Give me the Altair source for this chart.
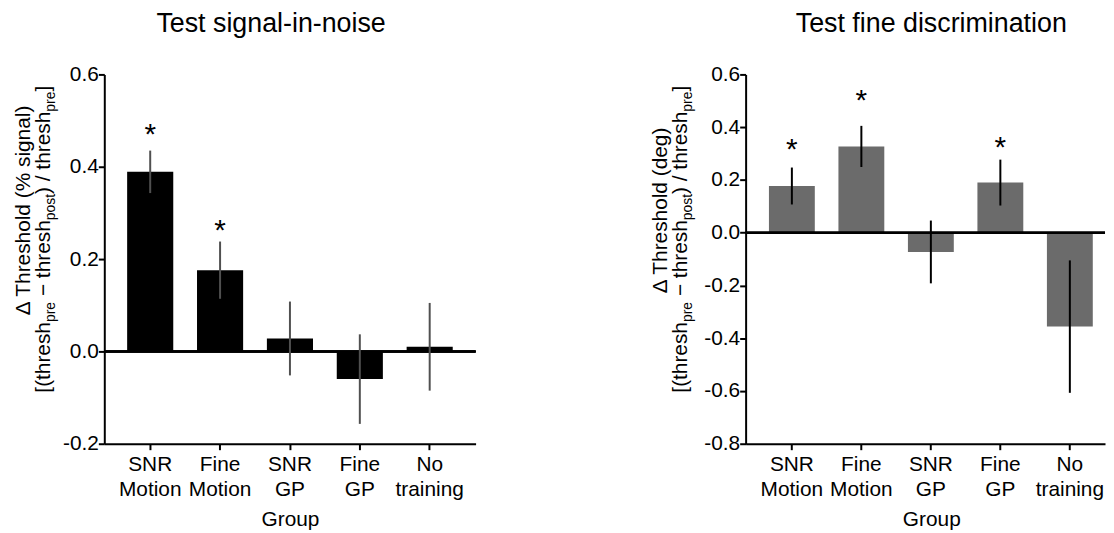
import altair as alt
import pandas as pd

groups = ["SNR Motion", "Fine Motion", "SNR GP", "Fine GP", "No training"]

snr_mean = [0.389, 0.176, 0.028, -0.060, 0.010]
snr_err = [0.046, 0.062, 0.080, 0.097, 0.095]
snr_star = [0.486, 0.277, None, None, None]

fine_mean = [0.177, 0.327, -0.073, 0.190, -0.356]
fine_err = [0.070, 0.078, 0.119, 0.087, 0.251]
fine_star = [0.342, 0.530, None, 0.351, None]

snr_ticks = [-0.2, 0.0, 0.2, 0.4, 0.6]
fine_ticks = [-0.8, -0.6, -0.4, -0.2, 0.0, 0.2, 0.4, 0.6]

FONT = "Liberation Sans, Arial, DejaVu Sans, sans-serif"

# second title line: (text, is_subscript); widths from Arial metrics (per 1000 em)
LINE2 = [("[(thresh", False), ("pre", True), (" \u2212 thresh", False), ("post", True),
         (") / thresh", False), ("pre", True), ("]", False)]
AW = {"[": 278, "(": 333, ")": 333, "t": 278, "h": 556, "r": 333, "e": 556, "s": 500,
      "p": 556, "o": 556, " ": 278, "\u2212": 584, "/": 278, "]": 278}
MAIN_FS, SUB_FS = 21, 14


def text_width(s, fs):
    return sum(AW[c] for c in s) * fs / 1000.0


def title_line2(bx, cy):
    widths = [text_width(s, SUB_FS if sub else MAIN_FS) for s, sub in LINE2]
    total = sum(widths)
    y = cy + total / 2.0
    marks = []
    for (s, sub), w in zip(LINE2, widths):
        fs = SUB_FS if sub else MAIN_FS
        lead = len(s) - len(s.lstrip(" "))
        start = y - text_width(" " * lead, fs)
        marks.append(
            alt.Chart(pd.DataFrame({"label": [s.strip(" ")]})).mark_text(
                angle=270, fontSize=fs, font=FONT,
                baseline="alphabetic", align="left", color="black"
            ).encode(text="label:N", x=alt.value(bx + (5 if sub else 0)), y=alt.value(start))
        )
        y -= w
    return marks


def panel(mean, err, star, ticks, domain, bar_color, err_color, width,
          title, line1, xscale, t1x, t2x, title_dx, xtitle_x):
    df = pd.DataFrame({
        "group": groups,
        "mean": mean,
        "lo": [m - e for m, e in zip(mean, err)],
        "hi": [m + e for m, e in zip(mean, err)],
        "star": star,
    })
    x = alt.X("group:N", sort=groups, scale=xscale,
              axis=alt.Axis(labelExpr="split(datum.label, ' ')", labelAngle=0,
                            labelLineHeight=25, labelPadding=4, title="Group",
                            titlePadding=9, titleX=xtitle_x))
    y = alt.Y("mean:Q", scale=alt.Scale(domain=domain, nice=False, zero=True),
              axis=alt.Axis(values=ticks, title=None, labelPadding=0,
                            labelExpr="replace(format(datum.value, '.1f'), '\u2212', '-')"))
    base = alt.Chart(df)
    bars = base.mark_bar(color=bar_color).encode(x=x, y=y)
    zero = base.mark_rule(color="black", strokeWidth=2).encode(y=alt.datum(0))
    errs = base.mark_rule(color=err_color, strokeWidth=2).encode(
        x=alt.X("group:N", sort=groups), y="lo:Q", y2="hi:Q")
    stars = base.transform_filter("isValid(datum.star)").mark_text(
        text="*", fontSize=30, font=FONT, baseline="middle", dy=8, color="black"
    ).encode(x=alt.X("group:N", sort=groups), y="star:Q")
    t1 = alt.Chart(pd.DataFrame({"label": [line1]})).mark_text(
        angle=270, fontSize=MAIN_FS, font=FONT, baseline="alphabetic", align="center",
        color="black"
    ).encode(text="label:N", x=alt.value(t1x), y=alt.value(137))
    layers = [bars, zero, errs, stars, t1] + title_line2(t2x, 166)
    return alt.layer(*layers).properties(
        width=width, height=372,
        title=alt.TitleParams(title, dx=title_dx),
    )


left = panel(snr_mean, snr_err, snr_star, snr_ticks, [-0.2, 0.6], "black", "#505050", 374,
             "Test signal-in-noise", "\u0394 Threshold (% signal)",
             alt.Scale(paddingInner=0.34, paddingOuter=0.327),
             -75, -55, -19, 187)
right = panel(fine_mean, fine_err, fine_star, fine_ticks, [-0.8, 0.6], "#6b6b6b", "black", 362,
              "Test fine discrimination", "\u0394 Threshold (deg)",
              alt.Scale(paddingInner=0.34, paddingOuter=0.2557, align=0.656),
              -79, -59, 6, 187)

chart = alt.hconcat(left, right, spacing=175).properties(
    padding={"left": 5, "top": 0, "right": 0, "bottom": 0}
).configure_view(stroke=None).configure_axis(
    grid=False, domainColor="black", domainWidth=2, tickColor="black", tickWidth=2,
    tickSize=6, labelColor="black", labelFont=FONT, labelFontSize=21,
    titleFont=FONT, titleFontSize=21, titleFontWeight="normal", titleColor="black",
).configure_title(
    font=FONT, fontSize=27, fontWeight="normal", color="black", anchor="middle",
    frame="group", baseline="alphabetic", offset=26,
)

chart.save("out.html", embed_options={"renderer": "svg", "actions": False})
